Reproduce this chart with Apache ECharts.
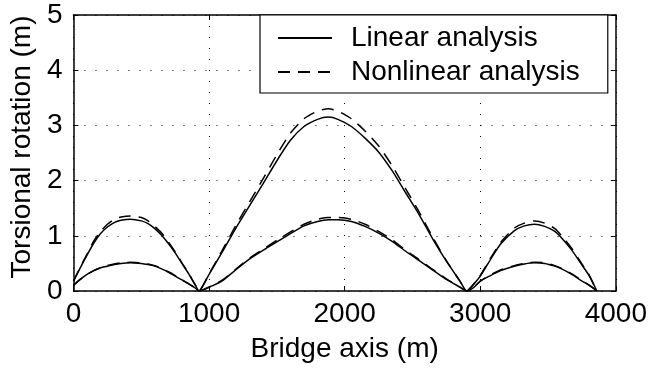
<!DOCTYPE html>
<html>
<head>
<meta charset="utf-8">
<script src="https://cdn.jsdelivr.net/npm/echarts@6/dist/echarts.min.js"></script>
<style>
  html, body { margin: 0; padding: 0; background: #fff; }
  #chart { width: 650px; height: 368px; }
</style>
</head>
<body>
<div id="chart"></div>
<script>
// positions along the bridge (m)
const bridgeX = [
  0, 50, 100, 150, 200, 250, 300, 350, 420, 500, 550, 600, 650, 700, 750, 800, 850, 900, 925,
  1000, 1100, 1200, 1300, 1400, 1500, 1600, 1700, 1800, 1880, 1950, 2050, 2150, 2250, 2350, 2450, 2550, 2650, 2750, 2850, 2900,
  2950, 3000, 3075, 3150, 3250, 3325, 3400, 3475, 3550, 3600, 3675, 3750, 3800, 3860
];

// upper curve
const linearUpper = [
  0.18, 0.42, 0.65, 0.87, 1.04, 1.16, 1.24, 1.28, 1.30, 1.27, 1.22, 1.13, 1.01, 0.86, 0.69, 0.50, 0.31, 0.10, 0.0,
  0.30, 0.72, 1.15, 1.55, 1.95, 2.36, 2.73, 2.98, 3.11, 3.15, 3.11, 2.98, 2.77, 2.52, 2.18, 1.78, 1.38, 0.94, 0.54, 0.18, 0.0,
  0.12, 0.27, 0.57, 0.85, 1.09, 1.18, 1.21, 1.17, 1.08, 0.96, 0.74, 0.47, 0.29, 0.0
];
const nonlinearUpper = [
  0.18, 0.43, 0.67, 0.91, 1.08, 1.21, 1.30, 1.34, 1.36, 1.33, 1.27, 1.17, 1.05, 0.89, 0.71, 0.51, 0.32, 0.10, 0.0,
  0.31, 0.75, 1.20, 1.62, 2.04, 2.47, 2.86, 3.12, 3.26, 3.30, 3.26, 3.12, 2.90, 2.63, 2.27, 1.85, 1.43, 0.97, 0.55, 0.18, 0.0,
  0.12, 0.28, 0.59, 0.88, 1.14, 1.23, 1.27, 1.23, 1.13, 1.00, 0.77, 0.49, 0.30, 0.0
];

// lower curve
const linearLower = [
  0.10, 0.21, 0.30, 0.37, 0.42, 0.45, 0.48, 0.50, 0.51, 0.50, 0.48, 0.45, 0.40, 0.34, 0.27, 0.20, 0.13, 0.05, 0.0,
  0.07, 0.19, 0.39, 0.58, 0.74, 0.89, 1.04, 1.18, 1.26, 1.29, 1.29, 1.26, 1.17, 1.05, 0.90, 0.72, 0.55, 0.38, 0.21, 0.07, 0.0,
  0.06, 0.18, 0.28, 0.37, 0.45, 0.49, 0.51, 0.50, 0.45, 0.40, 0.30, 0.18, 0.11, 0.0
];
const nonlinearLower = [
  0.10, 0.21, 0.30, 0.37, 0.42, 0.46, 0.49, 0.51, 0.52, 0.51, 0.49, 0.46, 0.41, 0.35, 0.28, 0.20, 0.13, 0.05, 0.0,
  0.07, 0.20, 0.40, 0.60, 0.76, 0.92, 1.07, 1.21, 1.30, 1.33, 1.33, 1.30, 1.21, 1.08, 0.93, 0.74, 0.57, 0.39, 0.22, 0.07, 0.0,
  0.06, 0.18, 0.29, 0.38, 0.46, 0.50, 0.52, 0.51, 0.46, 0.41, 0.31, 0.19, 0.11, 0.0
];

const FONT = "Liberation Sans, Arial, Helvetica, sans-serif";
const pairs = (ys) => bridgeX.map((x, i) => [x, ys[i]]);

const chart = echarts.init(document.getElementById("chart"), null, { renderer: "canvas" });

const frameAxis = {
  axisLine: { show: true, onZero: false, lineStyle: { color: "#000", width: 1.5 } },
  axisTick: { show: true, inside: true, length: 5, lineStyle: { color: "#000", width: 1 } },
  axisLabel: { show: false },
  splitLine: { show: false }
};
const dotted = { show: true, lineStyle: { color: "#000", width: 1, type: [1, 10] } };

function curve(name, ys, dashed) {
  return {
    name: name,
    type: "line",
    data: pairs(ys),
    symbol: "none",
    smooth: 0.2,
    lineStyle: { color: "#000", width: 1.5, type: dashed ? [12, 8] : "solid" },
    itemStyle: { color: "#000" },
    z: 3
  };
}

chart.setOption({
  animation: false,
  backgroundColor: "#fff",
  grid: { left: 68, right: 34, top: 15, bottom: 77 },
  legend: {
    left: 260,
    top: 15,
    orient: "vertical",
    backgroundColor: "#fff",
    borderColor: "#000",
    borderWidth: 1.2,
    borderRadius: 0,
    padding: [8, 28, 6, 17],
    itemGap: 4,
    itemWidth: 54,
    itemHeight: 14,
    z: 10,
    itemStyle: { opacity: 0 },
    data: ["Linear analysis", "Nonlinear analysis"],
    textStyle: { fontFamily: FONT, fontSize: 28, color: "#000", lineHeight: 30, padding: [0, 0, 0, 14] }
  },
  xAxis: [
    {
      type: "value",
      min: 0,
      max: 4000,
      interval: 1000,
      name: "Bridge axis (m)",
      nameLocation: "middle",
      nameGap: 44,
      nameTextStyle: { fontFamily: FONT, fontSize: 28, color: "#000" },
      axisLine: { show: true, onZero: false, lineStyle: { color: "#000", width: 1.5 } },
      axisTick: { show: true, inside: true, length: 5, lineStyle: { color: "#000" } },
      axisLabel: { fontFamily: FONT, fontSize: 28, color: "#000", margin: 9, formatter: (v) => String(v) },
      splitLine: dotted
    },
    Object.assign({ type: "value", position: "top", min: 0, max: 4000, interval: 1000 }, frameAxis)
  ],
  yAxis: [
    {
      type: "value",
      min: 0,
      max: 5,
      interval: 1,
      name: "Torsional rotation (m)",
      nameLocation: "middle",
      nameGap: 30,
      nameTextStyle: { fontFamily: FONT, fontSize: 28, color: "#000", padding: [0, 0, 0, 12] },
      axisLine: { show: true, onZero: false, lineStyle: { color: "#000", width: 1.5 } },
      axisTick: { show: true, inside: true, length: 5, lineStyle: { color: "#000" } },
      axisLabel: { fontFamily: FONT, fontSize: 28, color: "#000", margin: 11 },
      splitLine: dotted
    },
    Object.assign({ type: "value", position: "right", min: 0, max: 5, interval: 1 }, frameAxis)
  ],
  series: [
    curve("Linear analysis", linearUpper, false),
    curve("Linear analysis", linearLower, false),
    curve("Nonlinear analysis", nonlinearUpper, true),
    curve("Nonlinear analysis", nonlinearLower, true)
  ]
});
</script>
</body>
</html>
